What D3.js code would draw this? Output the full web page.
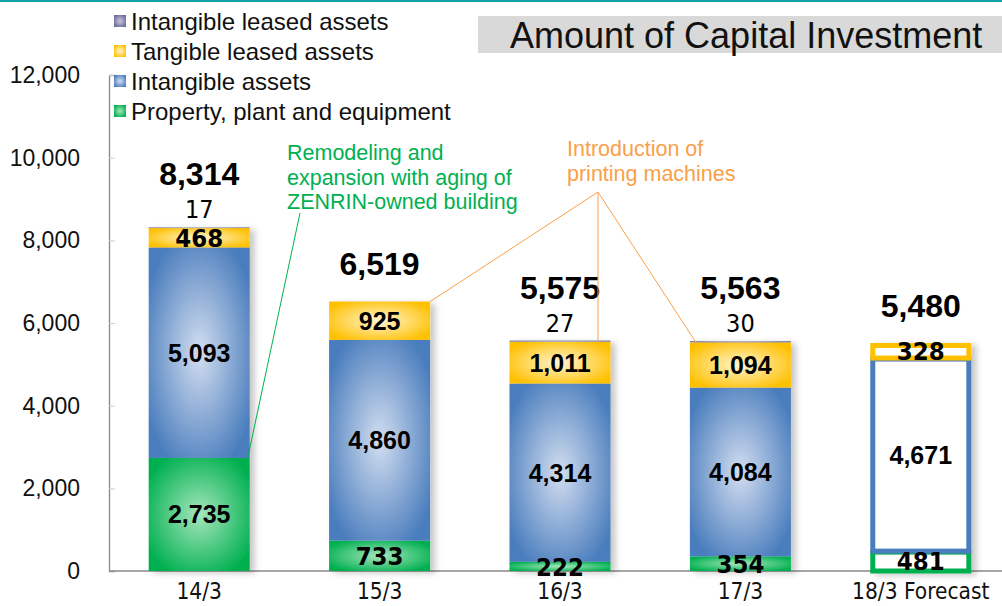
<!DOCTYPE html>
<html>
<head>
<meta charset="utf-8">
<script src="https://cdn.jsdelivr.net/npm/d3@7"></script>
<style>
  body { margin: 0; background: #fff; }
  svg { display: block; font-family: "Liberation Sans", Arial, sans-serif; }
</style>
</head>
<body>
<div id="chart"></div>
<script>
const categories = ["14/3", "15/3", "16/3", "17/3", "18/3 Forecast"];
const ppe = [2735, 733, 222, 354, 481];
const intangible = [5093, 4860, 4314, 4084, 4671];
const tangibleLeased = [468, 925, 1011, 1094, 328];
const intangibleLeased = [17, 1, 27, 30, 0];
const totals = ["8,314", "6,519", "5,575", "5,563", "5,480"];
const leasedLabels = ["17", "", "27", "30", ""];
const yTicks = [0, 2000, 4000, 6000, 8000, 10000, 12000];

const seriesKeys = ["ppe", "intangible", "tangibleLeased", "intangibleLeased"];
const seriesNames = {
  intangibleLeased: "Intangible leased assets",
  tangibleLeased: "Tangible leased assets",
  intangible: "Intangible assets",
  ppe: "Property, plant and equipment"
};
const colors = {
  ppe: ["#a6e6bc", "#00b050"],
  intangible: ["#d3def0", "#4a7dbd"],
  tangibleLeased: ["#fff6d2", "#ffc000"],
  intangibleLeased: ["#c8c8dc", "#6a6a9a"]
};

const width = 1002, height = 606;
const margin = {top: 75, right: 0, bottom: 35, left: 109};
const narrow = "'Liberation Sans Narrow', 'DejaVu Sans Condensed', 'Arial Narrow', sans-serif";
const arial = "'Liberation Sans', Arial, sans-serif";

const table = categories.map((c, i) => ({
  cat: c,
  ppe: ppe[i],
  intangible: intangible[i],
  tangibleLeased: tangibleLeased[i],
  intangibleLeased: intangibleLeased[i],
  total: totals[i],
  small: leasedLabels[i],
  forecast: i === categories.length - 1
}));

const svg = d3.select("#chart").append("svg")
  .attr("width", width).attr("height", height);

const defs = svg.append("defs");
seriesKeys.forEach(k => {
  const g = defs.append("radialGradient").attr("id", "grad-" + k)
    .attr("cx", "50%").attr("cy", "50%").attr("r", "70%");
  g.append("stop").attr("offset", "0%").attr("stop-color", colors[k][0]);
  g.append("stop").attr("offset", "85%").attr("stop-color", colors[k][1]);
});
defs.append("filter").attr("id", "shadow")
  .attr("x", "-10%").attr("y", "-10%").attr("width", "130%").attr("height", "120%")
  .append("feDropShadow")
    .attr("dx", 5).attr("dy", 2).attr("stdDeviation", 3)
    .attr("flood-color", "#000").attr("flood-opacity", 0.22);

// top rule
svg.append("line")
  .attr("x1", 0).attr("x2", width).attr("y1", 1).attr("y2", 1)
  .attr("stroke", "#14a0a0").attr("stroke-width", 2);

const x = d3.scaleBand()
  .domain(categories)
  .range([margin.left, margin.left + 902])
  .paddingInner(0.44).paddingOuter(0.22);

const y = d3.scaleLinear()
  .domain([0, 12000])
  .range([height - margin.bottom, margin.top]);

// y axis
const yAxis = svg.append("g")
  .attr("transform", `translate(${margin.left},0)`)
  .call(d3.axisLeft(y).tickValues(yTicks).tickSize(-6).tickPadding(29)
    .tickFormat(d3.format(",")));
yAxis.select(".domain").attr("stroke", "#888").attr("stroke-width", 1.3);
yAxis.selectAll(".tick line").attr("stroke", "#ccc");
yAxis.selectAll("text").attr("font-size", 23).attr("fill", "#111")
  .attr("font-family", arial);

// x axis
const xAxis = svg.append("g")
  .attr("transform", `translate(0,${y(0)})`)
  .call(d3.axisBottom(x).tickSize(0).tickPadding(12));
xAxis.select(".domain").attr("stroke", "#888").attr("stroke-width", 1.3)
  .attr("d", `M${margin.left},0H${width}`);
xAxis.selectAll("text").attr("font-size", 22.5).attr("fill", "#111")
  .attr("font-family", narrow);

const stacked = d3.stack().keys(seriesKeys)(table);

// bars
const barsG = svg.append("g").attr("filter", "url(#shadow)");
stacked.forEach(layer => {
  const k = layer.key;
  barsG.selectAll(null)
    .data(layer.filter(d => d.data[k] > 0))
    .join("rect")
      .attr("x", d => d.data.forecast ? x(d.data.cat) + 2.5 : x(d.data.cat))
      .attr("y", d => d.data.forecast ? y(d[1]) + 1 : y(d[1]))
      .attr("width", d => d.data.forecast ? x.bandwidth() - 5 : x.bandwidth())
      .attr("height", d => Math.max(0, y(d[0]) - y(d[1]) - (d.data.forecast ? 1 : 0)))
      .attr("fill", d => d.data.forecast ? "#fff" : `url(#grad-${k})`)
      .attr("stroke", d => d.data.forecast ? colors[k][1] : "none")
      .attr("stroke-width", 5);
});

// segment labels
const labelKeys = ["ppe", "intangible", "tangibleLeased"];
const thin = d => (y(d[0]) - y(d[1])) < 32;
stacked.filter(l => labelKeys.includes(l.key)).forEach(layer => {
  const k = layer.key;
  svg.selectAll(null)
    .data(layer)
    .join("text")
      .attr("x", d => x(d.data.cat) + x.bandwidth() / 2)
      .attr("y", d => (y(d[0]) + y(d[1])) / 2)
      .attr("dy", "0.36em")
      .attr("text-anchor", "middle")
      .attr("font-weight", "bold")
      .attr("font-size", d => thin(d) ? 25.5 : 25)
      .attr("font-family", d => thin(d) ? narrow : arial)
      .attr("fill", "#000")
      .text(d => d3.format(",")(d.data[k]));
});

// small intangible-leased labels and totals
const topOf = d => y(d.ppe + d.intangible + d.tangibleLeased + d.intangibleLeased);
svg.selectAll(null)
  .data(table.filter(d => d.small))
  .join("text")
    .attr("x", d => x(d.cat) + x.bandwidth() / 2)
    .attr("y", d => topOf(d) - 9)
    .attr("text-anchor", "middle")
    .attr("font-size", 25)
    .attr("font-family", narrow)
    .text(d => d.small);

svg.selectAll(null)
  .data(table)
  .join("text")
    .attr("x", d => x(d.cat) + x.bandwidth() / 2)
    .attr("y", d => topOf(d) - (d.small ? 42 : 27))
    .attr("text-anchor", "middle")
    .attr("font-size", 32)
    .attr("font-weight", "bold")
    .text(d => d.total);

// annotations
const green = "#00b050", orange = "#f9a04a";
const note1 = svg.append("text").attr("fill", green).attr("font-size", 21.5);
["Remodeling and", "expansion with aging of", "ZENRIN-owned building"].forEach((t, i) => {
  note1.append("tspan").attr("x", 287).attr("y", 160 + i * 24.5).text(t);
});
svg.append("line")
  .attr("x1", 300).attr("y1", 213)
  .attr("x2", x(categories[0]) + x.bandwidth() - 2).attr("y2", y(ppe[0]))
  .attr("stroke", green).attr("stroke-width", 1);

const note2 = svg.append("text").attr("fill", orange).attr("font-size", 21.5);
["Introduction of", "printing machines"].forEach((t, i) => {
  note2.append("tspan").attr("x", 567).attr("y", 156 + i * 25).text(t);
});
const origin = [598, 192];
const targets = [
  [x(categories[1]) + x.bandwidth(), y(ppe[1] + intangible[1] + tangibleLeased[1])],
  [598, y(ppe[2] + intangible[2] + tangibleLeased[2]) + 3],
  [x(categories[3]) + 6, y(ppe[3] + intangible[3] + tangibleLeased[3])]
];
svg.selectAll(null)
  .data(targets)
  .join("line")
    .attr("x1", origin[0]).attr("y1", origin[1])
    .attr("x2", d => d[0]).attr("y2", d => d[1])
    .attr("stroke", orange).attr("stroke-width", 1);

// legend
const legendOrder = ["intangibleLeased", "tangibleLeased", "intangible", "ppe"];
const legend = svg.append("g");
legendOrder.forEach((k, i) => {
  const cy = 21 + i * 30;
  legend.append("rect")
    .attr("x", 114).attr("y", cy - 6).attr("width", 12).attr("height", 12)
    .attr("fill", `url(#grad-${k})`);
  legend.append("text")
    .attr("x", 131).attr("y", cy).attr("dy", "0.36em")
    .attr("font-size", 24).attr("fill", "#111")
    .text(seriesNames[k]);
});

// title
svg.append("rect")
  .attr("x", 478).attr("y", 16).attr("width", width - 478).attr("height", 37)
  .attr("fill", "#d9d9d9");
svg.append("text")
  .attr("x", 510).attr("y", 48)
  .attr("font-size", 36).attr("fill", "#111")
  .text("Amount of Capital Investment");
</script>
</body>
</html>
